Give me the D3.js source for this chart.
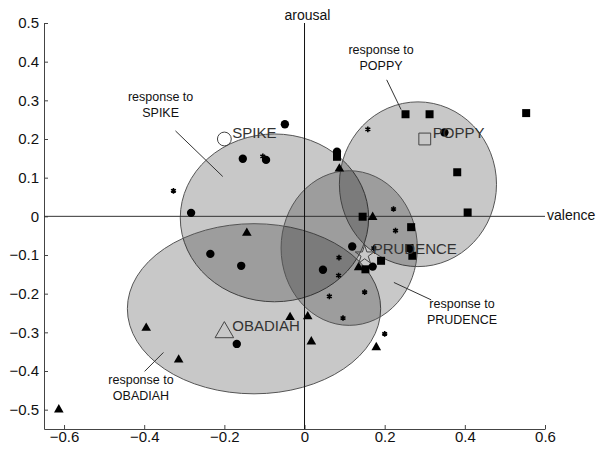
<!DOCTYPE html>
<html>
<head>
<meta charset="utf-8">
<script src="https://cdn.jsdelivr.net/npm/d3@7"></script>
<style>
  body { margin: 0; background: #fff; }
  text { font-family: "Liberation Sans", Arial, sans-serif; }
</style>
</head>
<body>
<div id="chart"></div>
<script>
// responses per stimulus, [valence, arousal]
const spikeResp = [[-0.049, 0.238], [-0.154, 0.149], [-0.096, 0.146], [-0.283, 0.009], [0.081, 0.167],
  [-0.235, -0.097], [-0.158, -0.128], [-0.169, -0.330], [0.119, -0.078], [0.046, -0.138],
  [0.170, -0.130], [0.349, 0.217]];
const poppyResp = [[0.252, 0.264], [0.312, 0.264], [0.381, 0.114], [0.407, 0.010], [0.553, 0.267],
  [0.145, -0.001], [0.266, -0.028], [0.262, -0.082], [0.269, -0.102], [0.191, -0.115],
  [0.152, -0.137], [0.081, 0.154]];
const obadiahResp = [[0.087, 0.123], [-0.144, -0.043], [0.170, -0.002], [0.135, -0.132], [-0.395, -0.289],
  [-0.314, -0.371], [-0.613, -0.500], [-0.036, -0.261], [0.008, -0.259], [0.017, -0.324],
  [0.179, -0.339]];
const prudenceResp = [[-0.327, 0.066], [-0.104, 0.155], [0.158, 0.225], [0.222, 0.019], [0.227, -0.037],
  [0.173, -0.082], [0.086, -0.107], [0.085, -0.153], [0.062, -0.207], [0.150, -0.196],
  [0.096, -0.263], [0.200, -0.304]];

// stimulus positions
const stimNames = ['SPIKE', 'POPPY', 'OBADIAH', 'PRUDENCE'];
const stimX = [-0.2, 0.3, -0.2, 0.15];
const stimY = [0.2, 0.2, -0.3, -0.1];

// response ellipses: centre and radii
const ellCx = [-0.075, 0.283, -0.126, 0.1115];
const ellCy = [-0.004, 0.083, -0.239, -0.082];
const ellRx = [0.235, 0.196, 0.316, 0.17];
const ellRy = [0.217, 0.213, 0.22, 0.2];

// annotation text anchor and leader line ends
const noteX = [-0.359, 0.191, -0.408, 0.393];
const noteY = [0.297, 0.420, -0.433, -0.237];
const leaderFrom = [[-0.322, 0.221], [0.205, 0.353], [-0.399, -0.401], [0.223, -0.171]];
const leaderTo = [[-0.204, 0.103], [0.241, 0.276], [-0.352, -0.352], [0.316, -0.216]];

const xTicks = [-0.6, -0.4, -0.2, 0, 0.2, 0.4, 0.6];
const yTicks = [-0.5, -0.4, -0.3, -0.2, -0.1, 0, 0.1, 0.2, 0.3, 0.4, 0.5];

const width = 609, height = 450;
const margin = { top: 23, right: 64, bottom: 21, left: 44 };

const svg = d3.select('#chart').append('svg')
    .attr('width', width)
    .attr('height', height);

const x = d3.scaleLinear().domain([-0.65, 0.6]).range([margin.left, width - margin.right]);
const y = d3.scaleLinear().domain([-0.55, 0.5]).range([height - margin.bottom, margin.top]);

// ellipses, translucent so overlaps get darker
svg.append('g').selectAll('ellipse')
  .data(d3.range(ellCx.length))
  .join('ellipse')
    .attr('cx', i => x(ellCx[i]))
    .attr('cy', i => y(ellCy[i]))
    .attr('rx', i => x(ellRx[i]) - x(0))
    .attr('ry', i => y(0) - y(ellRy[i]))
    .attr('fill', '#000')
    .attr('fill-opacity', 0.215)
    .attr('stroke', '#555')
    .attr('stroke-width', 1);

// axes
const xAxis = d3.axisBottom(x).tickValues(xTicks).tickFormat(d3.format('')).tickSizeInner(-4).tickSizeOuter(0).tickPadding(2);
const yAxis = d3.axisLeft(y).tickValues(yTicks).tickFormat(d3.format('')).tickSizeInner(-4).tickSizeOuter(0).tickPadding(5);

const gx = svg.append('g')
    .attr('transform', `translate(0, ${height - margin.bottom})`)
    .call(xAxis);
const gy = svg.append('g')
    .attr('transform', `translate(${margin.left}, 0)`)
    .call(yAxis);
[gx, gy].forEach(g => {
  g.attr('font-size', 15).attr('font-family', '"Liberation Sans", Arial, sans-serif');
  g.select('.domain').attr('stroke', '#444');
  g.selectAll('.tick line').attr('stroke', '#444');
  g.selectAll('.tick text').attr('fill', '#111');
});

// zero lines
svg.append('line')
    .attr('x1', x(-0.65)).attr('x2', x(0.6))
    .attr('y1', y(0)).attr('y2', y(0))
    .attr('stroke', '#333');
svg.append('line')
    .attr('x1', x(0)).attr('x2', x(0))
    .attr('y1', y(0.5)).attr('y2', y(-0.55))
    .attr('stroke', '#111');
svg.append('text')
    .attr('x', x(0.6) + 2).attr('y', y(0) + 4)
    .attr('font-size', 14).attr('fill', '#111')
    .text('valence');
svg.append('text')
    .attr('x', x(0) - 20).attr('y', 20)
    .attr('font-size', 14).attr('fill', '#111')
    .text('arousal');

// response markers
const marks = svg.append('g');
function drawPoints(data, type, size) {
  marks.append('g').selectAll('path')
    .data(data)
    .join('path')
      .attr('transform', d => `translate(${x(d[0])}, ${y(d[1])})`)
      .attr('d', d3.symbol().type(type).size(size))
      .attr('fill', '#000');
}
drawPoints(spikeResp, d3.symbolCircle, 55);
drawPoints(poppyResp, d3.symbolSquare, 64);
drawPoints(obadiahResp, d3.symbolTriangle, 40);

const asterisk = d3.symbolAsterisk || d3.symbolCross;
marks.append('g').selectAll('path')
  .data(prudenceResp)
  .join('path')
    .attr('transform', d => `translate(${x(d[0])}, ${y(d[1])})`)
    .attr('d', d3.symbol().type(asterisk).size(22))
    .attr('fill', 'none')
    .attr('stroke', '#000')
    .attr('stroke-width', 1.6);

// stimulus markers (hollow) and names
const stimTypes = [d3.symbolCircle, d3.symbolSquare, d3.symbolTriangle, d3.symbolStar];
const stimSizes = [150, 140, 150, 110];
svg.append('g').selectAll('path')
  .data(stimNames)
  .join('path')
    .attr('transform', (d, i) => `translate(${x(stimX[i])}, ${y(stimY[i])})`)
    .attr('d', (d, i) => d3.symbol().type(stimTypes[i]).size(stimSizes[i])())
    .attr('fill', 'none')
    .attr('stroke', '#444')
    .attr('stroke-width', 1);
svg.append('g').selectAll('text')
  .data(stimNames)
  .join('text')
    .attr('x', (d, i) => x(stimX[i]) + 8)
    .attr('y', (d, i) => y(stimY[i]) - 1)
    .attr('font-size', 15)
    .attr('fill', '#333')
    .text(d => d);

// "response to" notes with leader lines
svg.append('g').selectAll('line')
  .data(stimNames)
  .join('line')
    .attr('x1', (d, i) => x(leaderFrom[i][0])).attr('y1', (d, i) => y(leaderFrom[i][1]))
    .attr('x2', (d, i) => x(leaderTo[i][0])).attr('y2', (d, i) => y(leaderTo[i][1]))
    .attr('stroke', '#333');
const notes = svg.append('g').selectAll('text')
  .data(stimNames)
  .join('text')
    .attr('x', (d, i) => x(noteX[i]))
    .attr('y', (d, i) => y(noteY[i]))
    .attr('text-anchor', 'middle')
    .attr('font-size', 12.5)
    .attr('fill', '#111');
notes.append('tspan').text('response to');
notes.append('tspan')
    .attr('x', (d, i) => x(noteX[i]))
    .attr('dy', 16)
    .text(d => d);
</script>
</body>
</html>
